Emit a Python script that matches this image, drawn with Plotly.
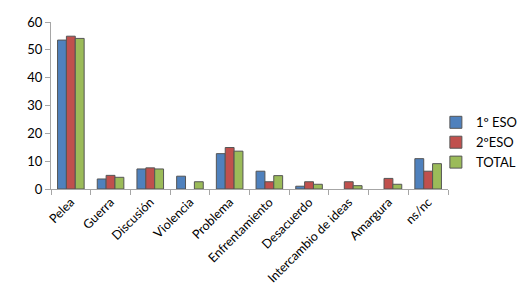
import plotly.graph_objects as go

categories = ["Pelea", "Guerra", "Discusión", "Violencia", "Problema", "Enfrentamiento",
              "Desacuerdo", "Intercambio de ideas", "Amargura", "ns/nc"]
eso1 = [53.5, 3.6, 7.2, 4.6, 12.7, 6.4, 1.0, 0, 0, 10.9]
eso2 = [54.9, 4.9, 7.6, 0, 14.9, 2.6, 2.6, 2.6, 3.8, 6.4]
total = [54.1, 4.2, 7.2, 2.6, 13.6, 4.8, 1.7, 1.2, 1.7, 9.1]
yticks = [0, 10, 20, 30, 40, 50, 60]

font = "Lato, 'Open Sans', sans-serif"


def outline(vals):
    return dict(color="#555555", width=[1 if v > 0 else 0 for v in vals])


fig = go.Figure()
fig.add_trace(go.Bar(name="1º ESO", x=categories, y=eso1, marker=dict(color="#4F81BD", line=outline(eso1))))
fig.add_trace(go.Bar(name="2ºESO", x=categories, y=eso2, marker=dict(color="#C0504D", line=outline(eso2))))
fig.add_trace(go.Bar(name="TOTAL", x=categories, y=total, marker=dict(color="#9BBB59", line=outline(total))))

fig.update_layout(
    width=525, height=288,
    margin=dict(l=43, r=85, t=14, b=107, autoexpand=False),
    paper_bgcolor="white", plot_bgcolor="white",
    barmode="group", bargap=0.33, bargroupgap=0,
    font=dict(family=font, size=12, color="#000000"),
    legend=dict(xref="container", yref="container", x=0.815, y=0.655,
                xanchor="left", yanchor="top", bgcolor="rgba(0,0,0,0)",
                font=dict(size=13), itemwidth=30, tracegroupgap=0),
    showlegend=True,
)
fig.update_xaxes(
    showline=True, linecolor="#A6A6A6", linewidth=1,
    ticks="outside", tickson="boundaries", ticklen=5, tickcolor="#A6A6A6",
    tickangle=-45, tickfont=dict(size=12.5),
)
fig.update_yaxes(
    range=[0, 60], tickvals=yticks, showgrid=False, zeroline=False,
    showline=True, linecolor="#A6A6A6", linewidth=1,
    ticks="outside", ticklen=5, tickcolor="#A6A6A6", tickfont=dict(size=13),
)
fig.write_html("out.html")
